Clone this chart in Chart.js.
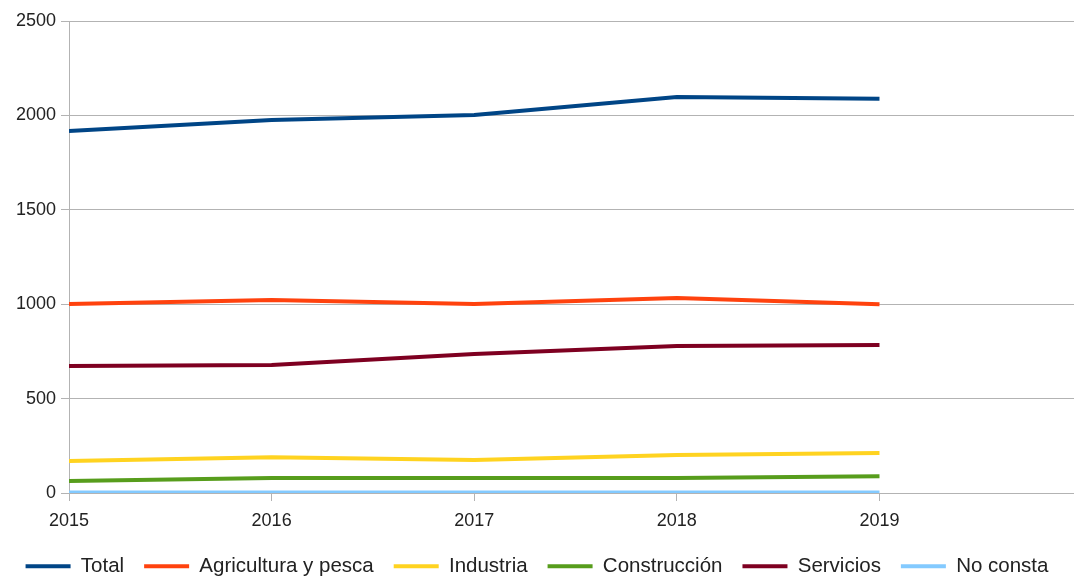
<!DOCTYPE html>
<html>
<head>
<meta charset="utf-8">
<script src="https://cdn.jsdelivr.net/npm/chart.js@4/dist/chart.umd.min.js"></script>
<style>
  html, body { margin: 0; padding: 0; background: #fff; }
  #wrap { width: 1074px; height: 576px; }
</style>
</head>
<body>
<div id="wrap"><canvas id="chart"></canvas></div>
<script>
const years = [2015, 2016, 2017, 2018, 2019];
const total = [1917, 1975, 2002, 2097, 2088];
const agricultura = [1001, 1022, 1001, 1033, 1000];
const industria = [169, 190, 175, 201, 212];
const construccion = [64, 80, 79, 80, 89];
const servicios = [673, 678, 736, 779, 784];
const noConsta = [2, 3, 2, 3, 3];
const yTicks = [0, 500, 1000, 1500, 2000, 2500];

function toPoints(values) {
    return values.map((v, i) => ({ x: years[i], y: v }));
}

function series(label, values, color) {
    return {
        label: label,
        data: toPoints(values),
        borderColor: color,
        backgroundColor: color,
        borderWidth: 4,
        pointRadius: 0,
        tension: 0,
        fill: false
    };
}

// keep the legend strip short so it sits close to the bottom edge
const legendHeight = {
    id: 'legendHeight',
    afterInit(chart) {
        const legend = chart.legend;
        const fit = legend.fit;
        legend.fit = function() {
            fit.call(this);
            this.height = 40;
        };
    }
};

Chart.defaults.font.family = '"Liberation Sans", Arial, sans-serif';
Chart.defaults.font.size = 18;
Chart.defaults.color = '#222';

new Chart(document.getElementById('chart'), {
    type: 'line',
    data: {
        datasets: [
            series('Total', total, '#004586'),
            series('Agricultura y pesca', agricultura, '#ff420e'),
            series('Industria', industria, '#ffd320'),
            series('Construcción', construccion, '#579d1c'),
            series('Servicios', servicios, '#7e0021'),
            series('No consta', noConsta, '#83caff')
        ]
    },
    plugins: [legendHeight],
    options: {
        responsive: true,
        maintainAspectRatio: false,
        animation: false,
        layout: { padding: { top: 21, right: 0, bottom: 0, left: 0 } },
        scales: {
            x: {
                type: 'linear',
                min: 2015,
                max: 2019.96,
                afterBuildTicks: function(scale) {
                    scale.ticks = years.map(y => ({ value: y }));
                },
                afterFit: function(scale) { scale.height = 43; },
                ticks: {
                    padding: 9,
                    maxRotation: 0,
                    callback: function(value) { return String(value); }
                },
                grid: {
                    drawOnChartArea: false,
                    tickLength: 8,
                    color: '#b3b3b3'
                },
                border: { display: false }
            },
            y: {
                min: 0,
                max: 2500,
                afterBuildTicks: function(scale) {
                    scale.ticks = yTicks.map(v => ({ value: v }));
                },
                afterFit: function(scale) { scale.width = 69; },
                ticks: {
                    padding: 5,
                    callback: function(value) { return String(value); }
                },
                grid: {
                    color: '#b3b3b3',
                    tickLength: 8
                },
                border: { color: '#b3b3b3' }
            }
        },
        plugins: {
            legend: {
                position: 'bottom',
                labels: {
                    boxWidth: 45,
                    boxHeight: 4,
                    padding: 20,
                    font: { size: 20.5 },
                    generateLabels: function(chart) {
                        const items = Chart.defaults.plugins.legend.labels.generateLabels(chart);
                        items.forEach(item => { item.lineWidth = 0; });
                        return items;
                    }
                }
            },
            tooltip: { enabled: false }
        }
    }
});
</script>
</body>
</html>
